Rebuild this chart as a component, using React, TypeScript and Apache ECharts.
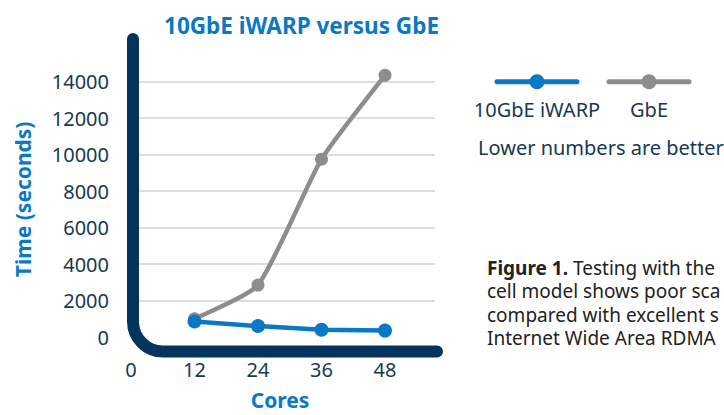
import React, { useEffect, useRef } from "react";
import * as echarts from "echarts";

// ---- data ----
const cores = [12, 24, 36, 48];
const iwarpTimes = [850, 600, 400, 350];
const gbeTimes = [1000, 2850, 9750, 14350];
const seriesNames = ["10GbE iWARP", "GbE"];
const chartTitle = "10GbE iWARP versus GbE";
const xAxisTitle = "Cores";
const yAxisTitle = "Time (seconds)";
const noteText = "Lower numbers are better";
const captionLines = [
  "{b|Figure 1.} Testing with the",
  "cell model shows poor sca",
  "compared with excellent s",
  "Internet Wide Area RDMA",
];

// ---- style / layout ----
const FONT = "'Noto Sans', 'Open Sans', sans-serif";
const BLUE = "#0a78c6";
const GRAY = "#8d8d90";
const NAVY = "#02345d";
const TICK = "#1a3850";
const W = 724;
const H = 415;
const GRID = { left: 131, top: 81.7, right: W - 435, bottom: H - 343.4 };

const axisPath = "M133,39 L133,321.5 A30,30 0 0 0 163,351.5 L437,351.5";
echarts.graphic.registerShape("axisL", echarts.graphic.extendPath(axisPath, {}));

function legendItem(cx: number, color: string, label: string) {
  return {
    type: "group",
    children: [
      {
        type: "line",
        shape: { x1: cx - 40, y1: 81.7, x2: cx + 40, y2: 81.7 },
        style: { stroke: color, lineWidth: 5, lineCap: "round" },
      },
      {
        type: "circle",
        shape: { cx, cy: 81.7, r: 7.5 },
        style: { fill: color },
      },
      {
        type: "text",
        x: cx,
        y: 109,
        style: {
          text: label,
          fill: TICK,
          font: `20px ${FONT}`,
          align: "center",
          verticalAlign: "middle",
          textAlign: "center",
          textVerticalAlign: "middle",
        },
      },
    ],
  };
}

const captionYs = [267.5, 291, 314.5, 338];

export default function App() {
  const ref = useRef<HTMLDivElement>(null);
  useEffect(() => {
    if (!ref.current) return;
    const chart = echarts.init(ref.current, null, { renderer: "svg" });
    chart.setOption({
      animation: false,
      backgroundColor: "#ffffff",
      title: {
        text: chartTitle,
        left: 296.5,
        textAlign: "center",
        top: 9,
        textStyle: { color: BLUE, fontSize: 22.5, fontWeight: "bold", fontFamily: FONT },
      },
      grid: GRID,
      xAxis: {
        type: "value",
        min: 0,
        max: 57.45,
        interval: 12,
        name: xAxisTitle,
        nameLocation: "middle",
        nameGap: 52,
        nameTextStyle: { color: BLUE, fontSize: 21, fontWeight: "bold", fontFamily: FONT, padding: [0, 6, 0, 0] },
        axisLine: { show: false },
        axisTick: { show: false },
        splitLine: { show: false },
        axisLabel: {
          color: TICK,
          fontSize: 20,
          fontFamily: FONT,
          margin: 22,
          showMaxLabel: false,
        },
      },
      yAxis: {
        type: "value",
        min: 0,
        max: 14000,
        interval: 2000,
        name: yAxisTitle,
        nameLocation: "middle",
        nameGap: 98,
        nameTextStyle: { color: BLUE, fontSize: 21, fontWeight: "bold", fontFamily: FONT, padding: [0, 0, 0, 20] },
        axisLine: { show: false },
        axisTick: { show: false },
        splitLine: { show: true, showMinLine: false, lineStyle: { color: "#d2d2d2", width: 1.5 } },
        axisLabel: {
          color: TICK,
          fontSize: 20,
          fontFamily: FONT,
          margin: 22,
          formatter: (v: number) => String(v),
        },
      },
      series: [
        {
          name: seriesNames[1],
          type: "line",
          data: cores.map((c, i) => [c, gbeTimes[i]]),
          smooth: 0.18,
          clip: false,
          symbol: "circle",
          symbolSize: 13,
          itemStyle: { color: GRAY },
          lineStyle: { color: GRAY, width: 4.5 },
          z: 3,
        },
        {
          name: seriesNames[0],
          type: "line",
          data: cores.map((c, i) => [c, iwarpTimes[i]]),
          clip: false,
          symbol: "circle",
          symbolSize: 14,
          itemStyle: { color: BLUE },
          lineStyle: { color: BLUE, width: 4.5 },
          z: 4,
        },
      ],
      graphic: [
        {
          type: "axisL",
          x: 0,
          y: 0,
          z: 2,
          style: { stroke: NAVY, lineWidth: 12, fill: "none", lineCap: "round", lineJoin: "round" },
        },
        legendItem(537, BLUE, seriesNames[0]),
        legendItem(649, GRAY, seriesNames[1]),
        {
          type: "text",
          x: 478,
          y: 147,
          style: {
            text: noteText,
            fill: TICK,
            font: `20px ${FONT}`,
            align: "left",
            verticalAlign: "middle",
            textAlign: "left",
            textVerticalAlign: "middle",
          },
        },
        ...captionLines.map((line, i) => ({
          type: "text",
          x: 487,
          y: captionYs[i],
          style: {
            text: line,
            fill: "#222222",
            font: `19px ${FONT}`,
            fontSize: 19,
            fontFamily: FONT,
            lineHeight: 21,
            verticalAlign: "middle",
            textVerticalAlign: "middle",
            rich: {
              b: { fontWeight: "bold", fontSize: 19, fontFamily: FONT, fill: "#222222", lineHeight: 21 },
            },
          },
        })),
      ],
    });
    return () => chart.dispose();
  }, []);
  return (
    <div
      ref={ref}
      style={{ position: "absolute", left: 0, top: 0, width: W, height: H, overflow: "hidden" }}
    />
  );
}
